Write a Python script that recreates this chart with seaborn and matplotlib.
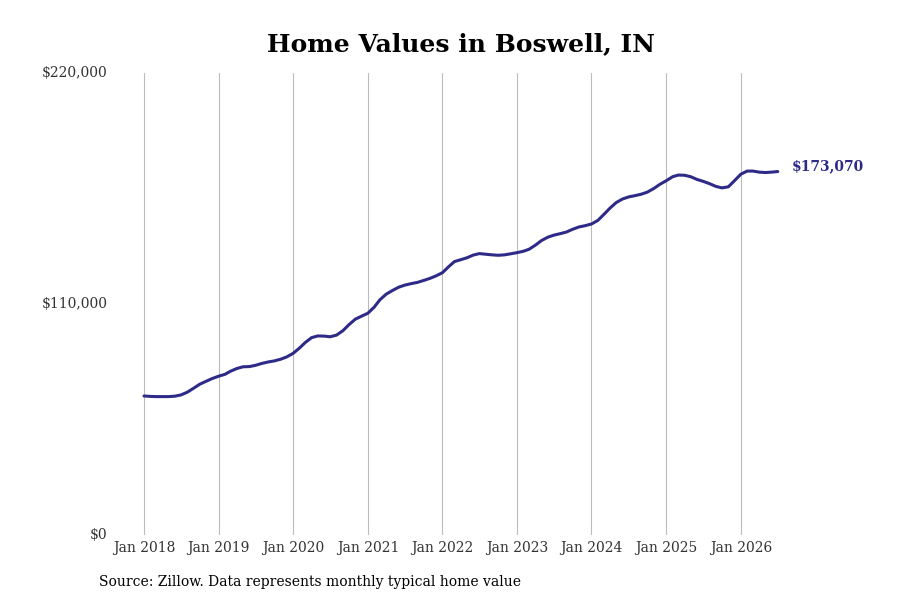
import matplotlib
matplotlib.use("Agg")
import matplotlib.pyplot as plt
import matplotlib.dates as mdates
import seaborn as sns
import pandas as pd
import numpy as np
from matplotlib.ticker import FuncFormatter

# ---- data (monthly typical home value, Jan 2018 - Jul 2026) ----
start_month = "2018-01-01"
values_2018 = [66200, 66000, 65900, 65900, 65900, 66100, 66700, 68000, 69900, 71800, 73200, 74500]
values_2019 = [75600, 76500, 78000, 79300, 80100, 80200, 80800, 81700, 82400, 82900, 83700, 84800]
values_2020 = [86500, 89000, 91700, 94000, 94800, 94700, 94400, 95200, 97300, 100200, 102800, 104200]
values_2021 = [105600, 108500, 112000, 114700, 116400, 118000, 119000, 119700, 120300, 121200, 122200, 123400]
values_2022 = [124900, 127800, 130200, 131100, 132000, 133300, 134000, 133700, 133400, 133200, 133400, 133900]
values_2023 = [134450, 135100, 136050, 138000, 140200, 141800, 142800, 143500, 144300, 145600, 146700, 147300]
values_2024 = [148100, 149800, 152600, 155700, 158300, 160000, 161000, 161600, 162300, 163300, 165000, 167000]
values_2025 = [168700, 170600, 171400, 171300, 170600, 169300, 168400, 167300, 166000, 165300, 165800, 168700]
values_2026 = [171800, 173300, 173300, 172800, 172600, 172800, 173070]
tick_years = [2018, 2019, 2020, 2021, 2022, 2023, 2024, 2025, 2026]
y_ticks = [0, 110000, 220000]
title = "Home Values in Boswell, IN"
source = "Source: Zillow. Data represents monthly typical home value"

values = (values_2018 + values_2019 + values_2020 + values_2021 + values_2022
          + values_2023 + values_2024 + values_2025 + values_2026)
dates = pd.date_range(start_month, periods=len(values), freq="MS")
df = pd.DataFrame({"date": dates, "value": values})

sns.set_theme(style="white")
plt.rcParams["font.family"] = ["DejaVu Serif"]

line_color = "#2e2a87"

fig = plt.figure(figsize=(9, 6), dpi=100)
# axes spans x pixels 120..800, y pixels 73..535
ax = fig.add_axes([120 / 900, 65 / 600, 680 / 900, 462 / 600])

sns.lineplot(data=df, x="date", y="value", ax=ax, color=line_color, linewidth=2.2)

# x limits: Jan 2018 at pixel 144, 74.6 px per year
jan18 = mdates.date2num(pd.Timestamp("2018-01-01"))
days_per_px = 365.25 / 74.6
ax.set_xlim(jan18 - 24 * days_per_px, jan18 + (800 - 144) * days_per_px)
ax.set_ylim(0, 220000)

ax.set_xticks([mdates.date2num(pd.Timestamp(f"{y}-01-01")) for y in tick_years])
ax.xaxis.set_major_formatter(mdates.DateFormatter("Jan %Y"))
ax.set_yticks(y_ticks)
ax.yaxis.set_major_formatter(FuncFormatter(lambda v, p: f"${v:,.0f}"))

ax.grid(axis="x", color="#bbbbbb", linewidth=0.8)
ax.grid(axis="y", visible=False)
for s in ax.spines.values():
    s.set_visible(False)

ax.tick_params(axis="x", labelsize=10, colors="#333333", pad=4, length=0)
ax.tick_params(axis="y", labelsize=10, colors="#333333", pad=9, length=0)
for lab in ax.get_yticklabels():
    lab.set_verticalalignment("center")
ax.set_xlabel("")
ax.set_ylabel("")

# end label
ax.annotate(f"${values[-1]:,}", xy=(dates[-1], values[-1]), xytext=(10, 4),
            textcoords="offset points", color=line_color, fontsize=10,
            fontweight="bold", va="center", ha="left", annotation_clip=False)

fig.text(461 / 900, 1 - 44 / 600, title, ha="center", va="center",
         fontsize=18, fontweight="bold", color="black")
fig.text(99 / 900, 1 - 582 / 600, source, ha="left", va="center",
         fontsize=10, color="black")

fig.savefig("out.png", dpi=100)
